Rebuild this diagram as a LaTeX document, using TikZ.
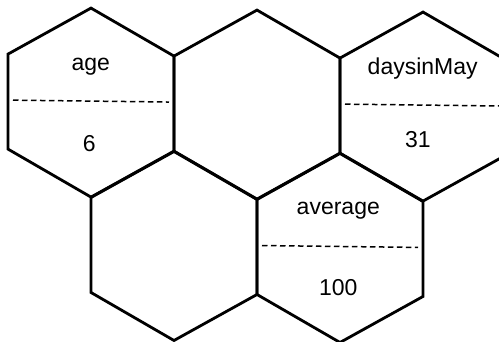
\documentclass[tikz,border=0pt]{standalone}
\usepackage{fontspec}
\setmainfont{Liberation Sans}
\usetikzlibrary{calc}

\begin{document}
\begin{tikzpicture}[
            x=1pt, y=-1pt,
            cell/.style={draw, line width=2.8pt, line join=miter},
            divider/.style={draw, line width=1.5pt, dash pattern=on 5.5pt off 3.5pt},
            word/.style={font=\fontsize{23}{27}\selectfont, inner sep=0pt}
            ]
        \useasboundingbox (0,0) rectangle (499,341);
        \clip (0,0) rectangle (499,341);

        % honeycomb of five cells, slightly tilted like the scan
        \begin{scope}[x={(1pt,-0.012pt)}]
        \foreach \cx/\cy in {91/101.5, 257/101.5, 423/101.5, 174/243.9, 340/243.9}
            \draw[cell] (\cx,\cy-94.5) -- ++(83,47) -- ++(0,95) -- ++(-83,47)
                -- ++(-83,-47) -- ++(0,-95) -- cycle;

        % split lines of the named cells
        \foreach \cx/\cy in {91/101.5, 423/101.5, 340/243.9}
            \draw[divider] (\cx-78,\cy-1.5) -- (\cx+78,\cy-1.5);
        \end{scope}

        % names and values
        \node[word] (age)     at (90.7,66.7)  {age};
        \node[word] (ageval)  at (89.3,144)   {6};
        \node[word] (days)    at (422.7,68.3) {daysinMay};
        \node[word] (daysval) at (418,140)    {31};
        \node[word] (avg)     at (338.3,210.7) {average};
        \node[word] (avgval)  at (338.3,287.3) {100};
        \end{tikzpicture}
\end{document}
